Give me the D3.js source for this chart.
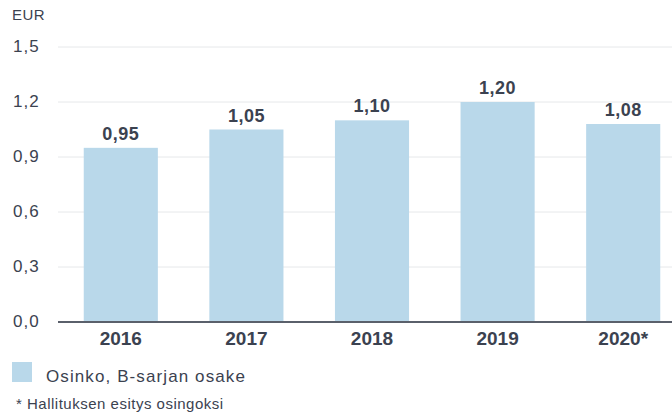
<!DOCTYPE html>
<html>
<head>
<meta charset="utf-8">
<script src="https://cdn.jsdelivr.net/npm/d3@7"></script>
<style>
  body { margin: 0; background: #fff; }
  svg text { font-family: "Liberation Sans", Arial, sans-serif; fill: #3b4250; }
</style>
</head>
<body>
<script>
// chart data
const years = ["2016", "2017", "2018", "2019", "2020*"];
const dividends = [0.95, 1.05, 1.10, 1.20, 1.08];
const yTicks = [0, 0.3, 0.6, 0.9, 1.2, 1.5];
const seriesName = "Osinko, B-sarjan osake";
const footnote = "* Hallituksen esitys osingoksi";

const width = 672, height = 415;
const fmt = d3.format(".2f");
const comma = s => s.replace(".", ",");

const svg = d3.select("body").append("svg")
  .attr("width", width)
  .attr("height", height);

const x = d3.scaleBand()
  .domain(years)
  .range([58, 686])
  .paddingInner(0.41)
  .paddingOuter(0.205);

const y = d3.scaleLinear()
  .domain([0, 1.5])
  .range([322, 47]);

// gridlines
svg.append("g")
  .selectAll("line")
  .data(yTicks.filter(d => d > 0))
  .enter().append("line")
  .attr("x1", 58).attr("x2", width)
  .attr("y1", d => y(d)).attr("y2", d => y(d))
  .attr("stroke", "#e6e8ea")
  .attr("stroke-width", 1);

// y tick labels
svg.append("g")
  .selectAll("text")
  .data(yTicks)
  .enter().append("text")
  .attr("x", 13)
  .attr("y", d => y(d) + 5)
  .style("font-size", "17px")
  .style("letter-spacing", "1px")
  .attr("fill", "#4a505b")
  .text(d => comma(d3.format(".1f")(d)));

svg.append("text")
  .attr("x", 12).attr("y", 20)
  .style("font-size", "15px")
  .style("letter-spacing", "0.5px")
  .text("EUR");

// bars
svg.append("g")
  .selectAll("rect")
  .data(dividends)
  .enter().append("rect")
  .attr("x", (d, i) => x(years[i]))
  .attr("y", d => y(d))
  .attr("width", x.bandwidth())
  .attr("height", d => y(0) - y(d))
  .attr("fill", "#b9d8ea");

// value labels
svg.append("g")
  .selectAll("text")
  .data(dividends)
  .enter().append("text")
  .attr("x", (d, i) => x(years[i]) + x.bandwidth() / 2)
  .attr("y", d => y(d) - 8)
  .attr("text-anchor", "middle")
  .style("font-size", "18px")
  .style("font-weight", "bold")
  .style("letter-spacing", "0.5px")
  .text(d => comma(fmt(d)));

// baseline
svg.append("line")
  .attr("x1", 58).attr("x2", width)
  .attr("y1", y(0)).attr("y2", y(0))
  .attr("stroke", "#5a606b")
  .attr("stroke-width", 2);

// x axis labels
const xAxis = d3.axisBottom(x).tickSize(0).tickPadding(9);
const gx = svg.append("g")
  .attr("transform", "translate(0," + (y(0) + 1) + ")")
  .call(xAxis);
gx.select(".domain").remove();
gx.selectAll("text")
  .style("font-size", "19px")
  .style("font-weight", "bold")
  .attr("fill", "#3b4250");

// legend
svg.append("rect")
  .attr("x", 12).attr("y", 362)
  .attr("width", 20).attr("height", 20)
  .attr("fill", "#b9d8ea");
svg.append("text")
  .attr("x", 46).attr("y", 382)
  .style("font-size", "17px")
  .style("letter-spacing", "1.1px")
  .attr("fill", "#4a505b")
  .text(seriesName);

svg.append("text")
  .attr("x", 16).attr("y", 409)
  .style("font-size", "15px")
  .style("letter-spacing", "0.5px")
  .attr("fill", "#4a505b")
  .text(footnote);
</script>
</body>
</html>
